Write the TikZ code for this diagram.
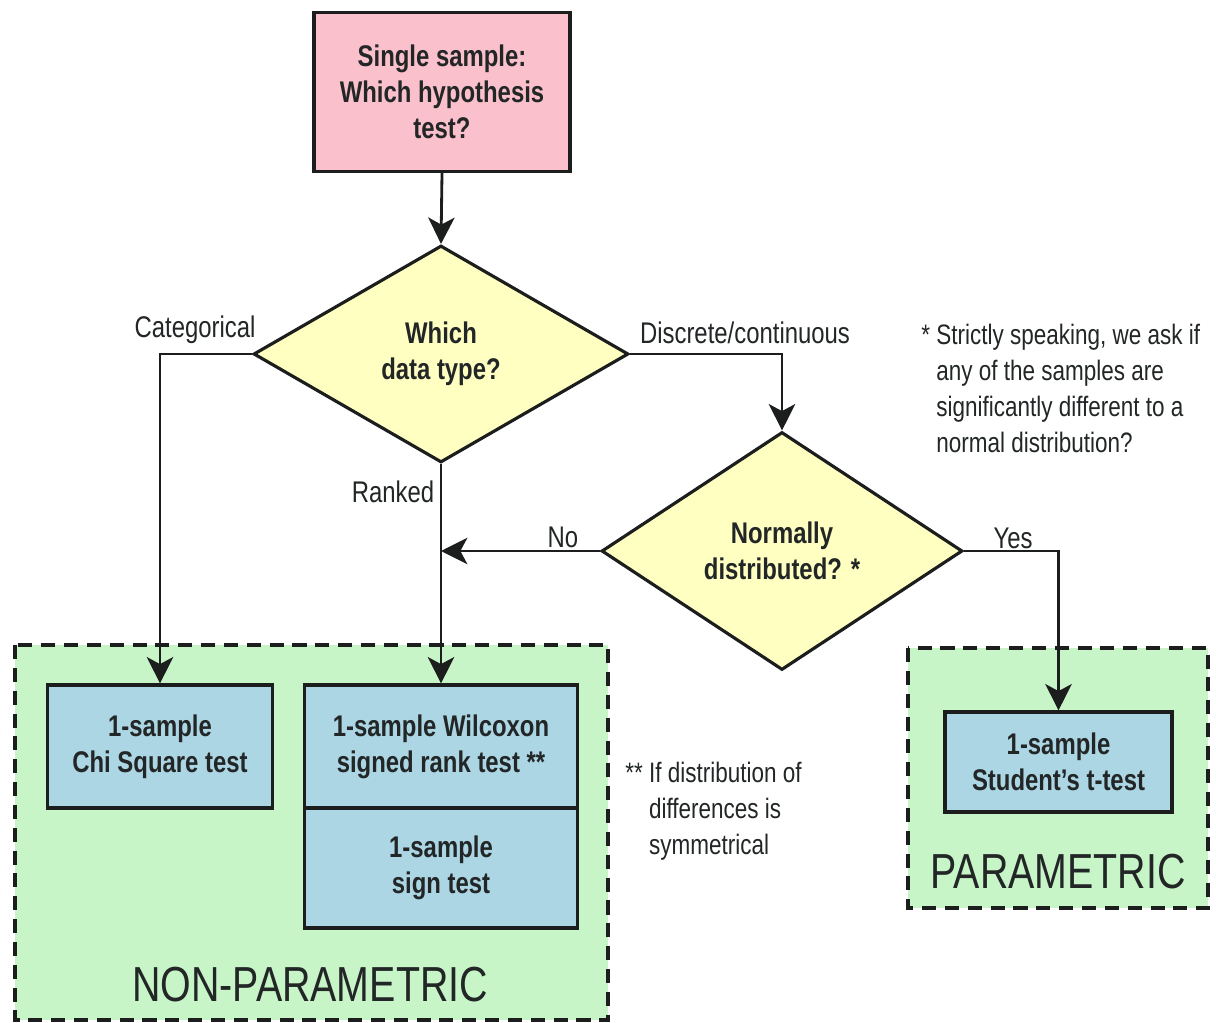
\documentclass[tikz,border=0pt]{standalone}
\usepackage{fontspec}
\setmainfont{Liberation Sans}[FakeStretch=0.8]
\usetikzlibrary{shapes.geometric,arrows.meta}
\definecolor{pinkfill}{RGB}{250,192,203}
\definecolor{yellowfill}{RGB}{255,255,194}
\definecolor{greenfill}{RGB}{200,245,200}
\definecolor{bluefill}{RGB}{172,214,228}
\definecolor{edge}{RGB}{28,30,30}
\definecolor{txt}{RGB}{34,38,38}
\begin{document}
\begin{tikzpicture}[x=0.02cm,y=-0.02cm,
 every node/.style={text=txt, font=\fontsize{17}{20.5}\selectfont},
 solidbox/.style={draw=edge, line width=1.8pt, inner sep=0pt, align=center, font=\bfseries\fontsize{17}{20.5}\selectfont},
 decision/.style={diamond, draw=edge, fill=yellowfill, line width=1.8pt, inner sep=0pt, align=center, font=\bfseries\fontsize{17}{20.5}\selectfont},
 group/.style={draw=edge, fill=greenfill, line width=2pt, dash pattern=on 8pt off 5pt},
 flow/.style={draw=edge, line width=1.6pt, -{Stealth[length=15pt,width=15pt,inset=4pt]}},
 lbl/.style={inner sep=0pt},
 notestyle/.style={inner sep=0pt, align=left, font=\fontsize{16}{20.5}\selectfont},
 grouplabel/.style={inner sep=0pt, font=\fontsize{28}{32}\selectfont}]
\useasboundingbox (0,0) rectangle (1216,1023);
\fill[white] (0,0) rectangle (1216,1023);
% groups
\draw[group] (15,645) rectangle (608,1020);
\draw[group] (908,648) rectangle (1208,908);
% nodes
\node[solidbox, fill=pinkfill, minimum width=5.12cm, minimum height=3.18cm] (top) at (442,92) {Single sample:\\Which hypothesis\\test?};
\node[decision, minimum width=7.5cm, minimum height=4.34cm] (d1) at (441,354) {Which\\data type?};
\node[decision, minimum width=7.22cm, minimum height=4.76cm] (d2) at (782,551) {Normally\\distributed? *};
\node[solidbox, fill=bluefill, minimum width=4.5cm, minimum height=2.46cm] (chi) at (160,746.5) {1-sample\\Chi Square test};
\node[solidbox, fill=bluefill, minimum width=5.46cm, minimum height=2.46cm] (wil) at (441,746.5) {1-sample Wilcoxon\\signed rank test **};
\node[solidbox, fill=bluefill, minimum width=5.46cm, minimum height=2.4cm] (sign) at (441,868) {1-sample\\sign test};
\node[solidbox, fill=bluefill, minimum width=4.54cm, minimum height=2cm] (stud) at (1058.5,762) {1-sample\\Student’s t-test};
% group labels
\node[grouplabel] (nplabel) at (310,985) {NON-PARAMETRIC};
\node[grouplabel] (plabel) at (1058,872) {PARAMETRIC};
% connectors
\draw[flow] (top.south) -- (d1.north);
\draw[flow] (d1.west) -| (chi.north);
\draw[flow] (d1.south) -- (wil.north);
\draw[flow] (d1.east) -| (d2.north);
\draw[flow] (d2.west) -- (d1.south |- d2.west);
\draw[flow] (d2.east) -| (stud.north);
% connector labels
\node[lbl] (lcat) at (195,330) {Categorical};
\node[lbl] (ldisc) at (745,333) {Discrete/continuous};
\node[lbl] (lrank) at (393,492) {Ranked};
\node[lbl] (lno) at (563,537) {No};
\node[lbl] (lyes) at (1013,538) {Yes};
% notes
\node[notestyle, anchor=north west] (note1) at (921,324) {* Strictly speaking, we ask if\\\phantom{* }any of the samples are\\\phantom{* }significantly different to a\\\phantom{* }normal distribution?};
\node[notestyle, anchor=north west] (note2) at (625,762) {** If distribution of\\\phantom{** }differences is\\\phantom{** }symmetrical};
\end{tikzpicture}
\end{document}
